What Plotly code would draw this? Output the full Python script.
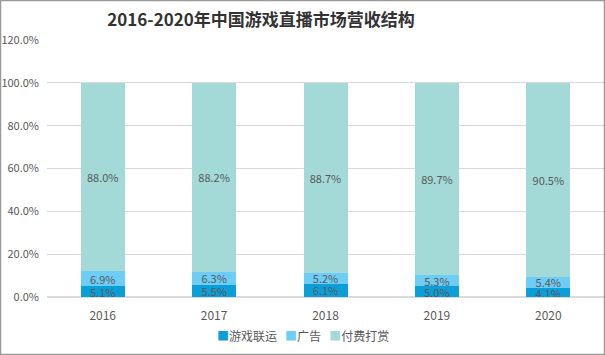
import plotly.graph_objects as go

years = ["2016", "2017", "2018", "2019", "2020"]
lianyun = [5.1, 5.5, 6.1, 5.0, 4.1]
guanggao = [6.9, 6.3, 5.2, 5.3, 5.4]
dashang = [88.0, 88.2, 88.7, 89.7, 90.5]

series = [("游戏联运", lianyun, "#0a9fd8"),
          ("广告", guanggao, "#6dcdf5"),
          ("付费打赏", dashang, "#a3d9d6")]

font = "Noto Sans CJK SC, Noto Sans, sans-serif"
fig = go.Figure()
for name, vals, col in series:
    fig.add_trace(go.Bar(
        x=years, y=vals, name=name, marker=dict(color=col, line=dict(width=0)),
        text=[f"{v:.1f}%" for v in vals], textposition="inside",
        insidetextanchor="middle", textangle=0,
        textfont=dict(color="#595959", size=11, family=font),
        constraintext="none", showlegend=False,
    ))

legend_text = "   ".join(
    f"<span style='color:{col}'>■</span>{name}" for name, _, col in series)

fig.update_layout(
    barmode="stack", bargap=0.605,
    width=605, height=355,
    margin=dict(l=47, r=1, t=40, b=58, autoexpand=False),
    paper_bgcolor="white", plot_bgcolor="white",
    title=dict(text="<b>2016-2020年中国游戏直播市场营收结构</b>", x=261 / 605, xanchor="center",
               xref="container", yref="container", y=1 - 20 / 355, yanchor="middle",
               font=dict(size=17, color="#333333", family=font)),
    uniformtext=dict(minsize=8, mode="show"),
    annotations=[dict(text=legend_text, xref="paper", yref="paper", x=0.46, y=-38 / 257,
                      xanchor="center", yanchor="middle", showarrow=False,
                      font=dict(size=12, color="#595959", family=font))],
)
fig.update_yaxes(range=[0, 120], dtick=20, ticksuffix=".0%", showgrid=True,
                 gridcolor="#d9d9d9", gridwidth=1, zeroline=True, zerolinecolor="#d9d9d9",
                 tickfont=dict(size=11, color="#595959", family=font), ticks="",
                 ticklabelstandoff=7, automargin=False)
fig.update_xaxes(tickfont=dict(size=12, color="#595959", family=font), showline=False,
                 ticks="", ticklabelstandoff=10, automargin=False)
fig.add_shape(type="rect", xref="paper", yref="paper",
              x0=-46.5 / 557, x1=1 + 0.5 / 557, y0=-57.5 / 257, y1=1 + 39.5 / 257,
              line=dict(color="#9a9a9a", width=1.5))
fig.write_html("out.html", config={"displayModeBar": False},
               post_script="document.body.style.margin='0px';document.body.style.overflow='hidden';")
